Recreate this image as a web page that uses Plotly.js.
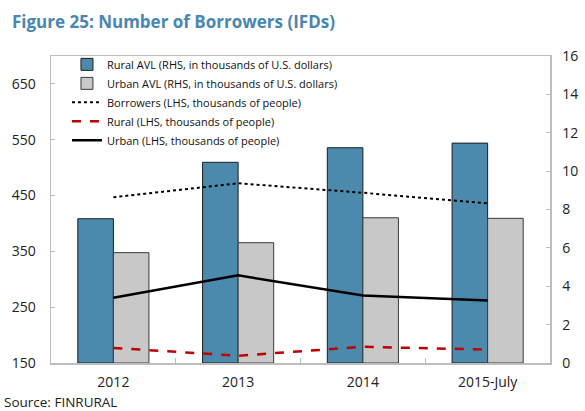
<!DOCTYPE html>
<html>
<head>
<meta charset="utf-8">
<script src="https://cdn.plot.ly/plotly-3.0.1.min.js"></script>
<style>html,body{margin:0;padding:0;background:#fff;}#chart{width:585px;height:411px;}</style>
</head>
<body>
<div id="chart"></div>
<script>
// Data
const categories = ["2012", "2013", "2014", "2015-July"];
const ruralAVL = [7.52, 10.46, 11.22, 11.46];   // RHS, thousands of USD
const urbanAVL = [5.75, 6.27, 7.57, 7.54];      // RHS, thousands of USD
const borrowers = [447, 472, 455, 436];         // LHS, thousands of people
const ruralBorrowers = [177, 163, 179, 174];    // LHS
const urbanBorrowers = [267, 307, 271, 262];    // LHS
const leftTicks = [150, 250, 350, 450, 550, 650];
const rightTicks = [0, 2, 4, 6, 8, 10, 12, 14, 16];

const font = "Open Sans, Noto Sans, sans-serif";
const axisColor = "#bdbdbd";

const data = [
  {type: "bar", name: "Rural AVL (RHS, in thousands of U.S. dollars)", x: categories, y: ruralAVL,
   yaxis: "y", marker: {color: "#4b8aad", line: {color: "#1e1e1e", width: 1}}},
  {type: "bar", name: "Urban AVL (RHS, in thousands of U.S. dollars)", x: categories, y: urbanAVL,
   yaxis: "y", marker: {color: "#c8c8c8", line: {color: "#3a3a3a", width: 1}}},
  {type: "scatter", mode: "lines", name: "Borrowers (LHS, thousands of people)", x: categories, y: borrowers,
   yaxis: "y2", line: {color: "#000", width: 2, dash: "dot"}},
  {type: "scatter", mode: "lines", name: "Rural (LHS, thousands of people)", x: categories, y: ruralBorrowers,
   yaxis: "y2", line: {color: "#c00000", width: 2.5, dash: "dash"}},
  {type: "scatter", mode: "lines", name: "Urban (LHS, thousands of people)", x: categories, y: urbanBorrowers,
   yaxis: "y2", line: {color: "#000", width: 2.5}}
];

const layout = {
  width: 585, height: 411,
  margin: {l: 51, r: 35, t: 56, b: 48},
  paper_bgcolor: "#fff", plot_bgcolor: "#fff",
  font: {family: font, size: 14, color: "#222"},
  title: {text: "<b>Figure 25: Number of Borrowers (IFDs)</b>", font: {family: font, size: 17, color: "#4a86b3"},
          x: 12/585, xanchor: "left", xref: "container", y: 1 - 22/411, yanchor: "middle", yref: "container"},
  showlegend: true,
  legend: {x: 0.032, y: 1.02, xanchor: "left", yanchor: "top", bgcolor: "rgba(0,0,0,0)",
           font: {family: font, size: 11, color: "#111"}, tracegroupgap: 0, itemwidth: 30, traceorder: "normal"},
  barmode: "group", bargap: 0.43, bargroupgap: 0,
  xaxis: {type: "category", range: [-0.5, 3.5], showline: true, linecolor: axisColor, linewidth: 1.5,
          mirror: true, ticks: "inside", tickson: "boundaries", ticklen: 5, tickcolor: axisColor,
          showgrid: false, zeroline: false, tickfont: {size: 14, color: "#222"}, ticklabelstandoff: 6,
          fixedrange: true},
  yaxis: {side: "right", range: [0, 16], tickvals: rightTicks, showline: true, linecolor: axisColor, linewidth: 1.5,
          ticks: "inside", ticklen: 4, tickcolor: axisColor, showgrid: false, zeroline: false,
          tickfont: {size: 14, color: "#222"}, ticklabelstandoff: 8},
  yaxis2: {side: "left", overlaying: "y", range: [150, 700], tickvals: leftTicks, showline: true,
           linecolor: axisColor, linewidth: 1.5, ticks: "inside", ticklen: 4, tickcolor: axisColor,
           showgrid: false, zeroline: false, tickfont: {size: 14, color: "#222"}, ticklabelstandoff: 11},
  annotations: [
    {text: "Source: FINRURAL", xref: "paper", yref: "paper", x: -49/499, y: (363-402)/307,
     xanchor: "left", yanchor: "middle", showarrow: false, font: {family: font, size: 13.5, color: "#222"}}
  ]
};

Plotly.newPlot("chart", data, layout, {displayModeBar: false, staticPlot: true});
</script>
</body>
</html>
